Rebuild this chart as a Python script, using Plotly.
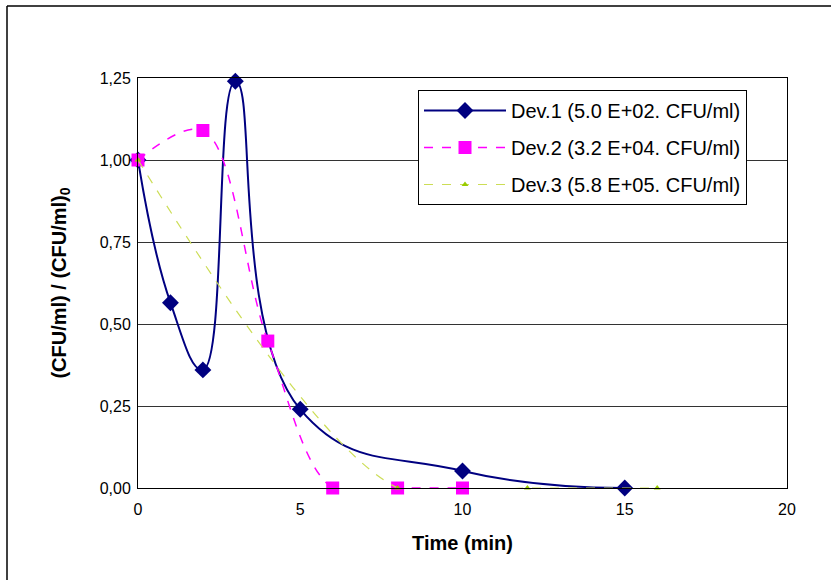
import plotly.graph_objects as go

# Data
dev1_x = [0, 1, 2, 3, 5, 10, 15]
dev1_y = [1.0, 0.565, 0.36, 1.24, 0.24, 0.052, 0.0]

dev2_x = [0, 2, 4, 6, 8, 10]
dev2_y = [1.0, 1.09, 0.448, 0.0, 0.0, 0.0]

dev3_x = [0, 8, 12, 16]
dev3_y = [1.0, 0.0, 0.0, 0.0]

names = ["Dev.1 (5.0 E+02. CFU/ml)", "Dev.2 (3.2 E+04. CFU/ml)", "Dev.3 (5.8 E+05. CFU/ml)"]

y_ticks = [0, 0.25, 0.5, 0.75, 1.0, 1.25]
y_ticklabels = ["0,00", "0,25", "0,50", "0,75", "1,00", "1,25"]
x_ticks = [0, 5, 10, 15, 20]

FONT = "Liberation Sans, Arial, sans-serif"

fig = go.Figure()
fig.add_trace(go.Scatter(
    x=dev1_x, y=dev1_y, name=names[0], mode="lines+markers", legendgroup="a",
    line=dict(color="#000080", width=2, shape="spline", smoothing=1.3),
    marker=dict(symbol="diamond", size=13, color="#000080"),
    cliponaxis=False,
))
fig.add_trace(go.Scatter(
    x=dev2_x, y=dev2_y, name=names[1], mode="lines+markers", legendgroup="b",
    line=dict(color="#FF00FF", width=1.5, dash="dash", shape="spline", smoothing=1.0),
    marker=dict(symbol="square", size=13, color="#FF00FF"),
    cliponaxis=False,
))
fig.add_trace(go.Scatter(
    x=dev3_x, y=dev3_y, name=names[2], mode="lines+markers", legendgroup="c",
    line=dict(color="#CCDD55", width=1.2, dash="dash", shape="spline", smoothing=1.0),
    marker=dict(symbol="triangle-up", size=6, color="#99CC00"),
    cliponaxis=False,
))

W, H = 831, 580
L, R, T, B = 138, 44, 78, 92
pw, ph = W - L - R, H - T - B

def px(x):
    return (x - L) / pw

def py(y):
    return (H - B - y) / ph

fig.update_layout(
    width=W, height=H,
    margin=dict(l=L, r=R, t=T, b=B, autoexpand=False),
    paper_bgcolor="white", plot_bgcolor="white",
    font=dict(family=FONT, size=16, color="black"),
    showlegend=True,
    legend=dict(
        x=px(418), y=py(90), xanchor="left", yanchor="top",
        bordercolor="black", borderwidth=1, bgcolor="white",
        font=dict(family=FONT, size=20, color="black"),
        tracegroupgap=8, itemwidth=82,
    ),
    xaxis=dict(
        range=[0, 20], tickvals=x_ticks, showgrid=False, zeroline=False,
        showline=True, linecolor="black", linewidth=1, mirror=True,
        ticks="", ticklabelstandoff=7, tickfont=dict(family=FONT, size=16),
        title=dict(text="<b>Time (min)</b>", font=dict(family=FONT, size=20), standoff=18),
    ),
    yaxis=dict(
        range=[0, 1.25], tickvals=y_ticks, ticktext=y_ticklabels,
        showgrid=True, gridcolor="#333333", gridwidth=1, zeroline=False,
        showline=True, linecolor="black", linewidth=1, mirror=True,
        ticks="", ticklabelstandoff=3, tickfont=dict(family=FONT, size=16),
        title=dict(text="<b>(CFU/ml) / (CFU/ml)<sub>0</sub></b>", font=dict(family=FONT, size=20), standoff=27),
    ),
    shapes=[
        dict(type="line", xref="paper", yref="paper", x0=px(7), x1=px(840), y0=py(6), y1=py(6),
             line=dict(color="black", width=1.5)),
        dict(type="line", xref="paper", yref="paper", x0=px(7), x1=px(7), y0=py(6), y1=py(590),
             line=dict(color="black", width=1.5)),
    ],
)

fig.write_html(
    "out.html",
    config={"displayModeBar": False},
    post_script="document.body.style.margin='0px';document.body.style.overflow='hidden';",
)
